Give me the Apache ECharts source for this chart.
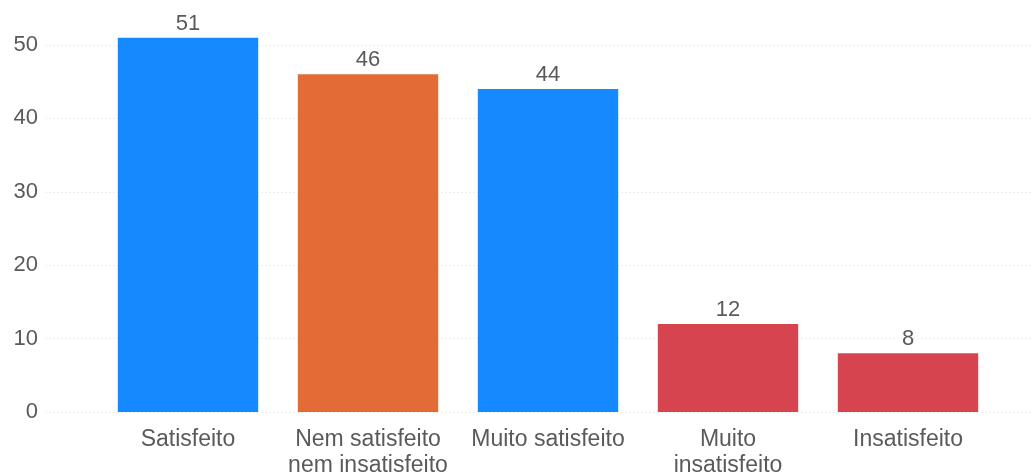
<!DOCTYPE html>
<html>
<head>
<meta charset="utf-8">
<script src="https://cdn.jsdelivr.net/npm/echarts@6/dist/echarts.min.js"></script>
<style>
  html, body { margin: 0; padding: 0; background: #ffffff; }
  #chart { width: 1033px; height: 474px; }
</style>
</head>
<body>
<div id="chart"></div>
<script>
// Satisfaction survey: number of responses per answer
const categories = ['Satisfeito', 'Nem satisfeito\nnem insatisfeito', 'Muito satisfeito', 'Muito\ninsatisfeito', 'Insatisfeito'];
const counts = [51, 46, 44, 12, 8];
const barColors = ['#1589FF', '#E36C36', '#1589FF', '#D5444F', '#D5444F'];
const yTicks = [0, 10, 20, 30, 40, 50];

const yMin = yTicks[0];
const yMax = yTicks[yTicks.length - 1];
const yStep = yTicks[1] - yTicks[0];
const font = 'Liberation Sans, Arial, sans-serif';

const chart = echarts.init(document.getElementById('chart'));
chart.setOption({
  animation: false,
  grid: [
    // full-width grid that carries the tick labels and horizontal grid lines
    { left: 45, right: 0, top: 45, bottom: 62, containLabel: false, outerBoundsMode: 'none' },
    // inner grid for the bars
    { left: 98, right: 35, top: 45, bottom: 62, containLabel: false, outerBoundsMode: 'none' }
  ],
  xAxis: [
    { gridIndex: 0, type: 'value', show: false, min: 0, max: 1 },
    {
      gridIndex: 1,
      type: 'category',
      data: categories,
      axisLine: { show: false },
      axisTick: { show: false },
      axisLabel: {
        color: '#5a5a5a',
        fontSize: 23,
        fontFamily: font,
        margin: 15,
        lineHeight: 26,
        interval: 0
      }
    }
  ],
  yAxis: [
    {
      gridIndex: 0,
      type: 'value',
      min: yMin,
      max: yMax,
      interval: yStep,
      axisLine: { show: false },
      axisTick: { show: false },
      axisLabel: { color: '#5a5a5a', fontSize: 22, fontFamily: font, margin: 7 },
      splitLine: { lineStyle: { color: '#eeeeee', width: 1, type: [2, 2] } }
    },
    {
      gridIndex: 1,
      type: 'value',
      min: yMin,
      max: yMax,
      interval: yStep,
      show: false,
      splitLine: { show: false }
    }
  ],
  series: [{
    type: 'bar',
    xAxisIndex: 1,
    yAxisIndex: 1,
    clip: false,
    barCategoryGap: '22%',
    data: counts.map((v, i) => ({ value: v, itemStyle: { color: barColors[i] } })),
    label: {
      show: true,
      position: 'top',
      distance: 3,
      color: '#5a5a5a',
      fontSize: 22,
      fontFamily: font
    }
  }]
});
</script>
</body>
</html>
